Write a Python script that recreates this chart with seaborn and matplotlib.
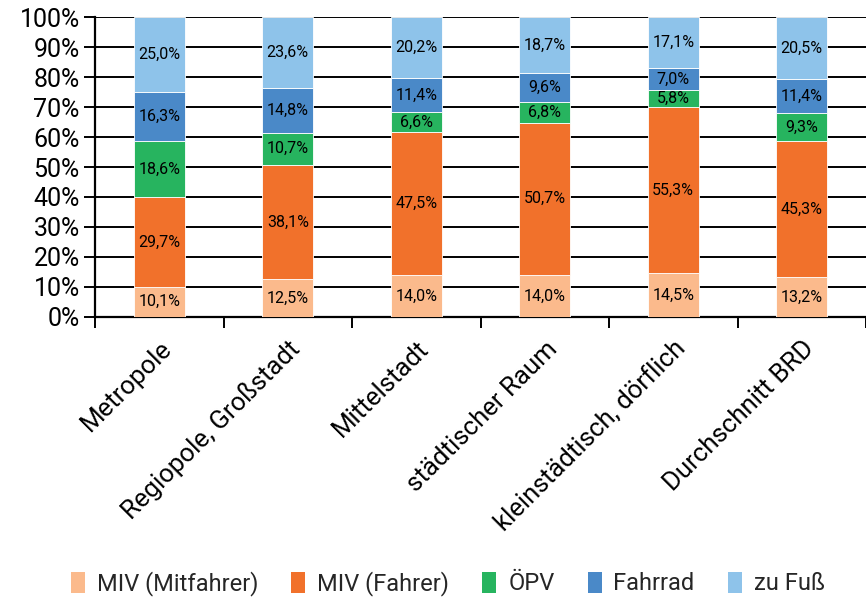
import numpy as np
import pandas as pd
import matplotlib
matplotlib.use("Agg")
import matplotlib.pyplot as plt
import seaborn as sns
from matplotlib.patches import Patch
from matplotlib.ticker import FixedLocator, PercentFormatter

categories = ["Metropole", "Regiopole, Großstadt", "Mittelstadt",
              "städtischer Raum", "kleinstädtisch, dörflich", "Durchschnitt BRD"]
series_names = ["MIV (Mitfahrer)", "MIV (Fahrer)", "ÖPV", "Fahrrad", "zu Fuß"]
miv_mitfahrer = [10.1, 12.5, 14.0, 14.0, 14.5, 13.2]
miv_fahrer = [29.7, 38.1, 47.5, 50.7, 55.3, 45.3]
oepv = [18.6, 10.7, 6.6, 6.8, 5.8, 9.3]
fahrrad = [16.3, 14.8, 11.4, 9.6, 7.0, 11.4]
zu_fuss = [25.0, 23.6, 20.2, 18.7, 17.1, 20.5]
colors = ["#FBBA8C", "#F1712B", "#27B45F", "#4A89C8", "#8EC3EA"]

values = np.array([miv_mitfahrer, miv_fahrer, oepv, fahrrad, zu_fuss])
totals = values.sum(axis=0)
shares = values / totals * 100

sns.set_theme(style="white")
plt.rcParams['font.family'] = ['Roboto', 'DejaVu Sans']

fig = plt.figure(figsize=(8.66, 5.99), dpi=100)
ax = fig.add_axes([0.1097, 0.4708, 0.8903, 0.5008])

bottoms = np.zeros(len(categories))
for i, name in enumerate(series_names):
    df = pd.DataFrame({"cat": categories, "val": shares[i]})
    sns.barplot(data=df, x="cat", y="val", bottom=bottoms, color=colors[i],
                width=0.4, ax=ax, saturation=1, edgecolor="white", linewidth=0.6,
                zorder=3)
    for j in range(len(categories)):
        ax.text(j, bottoms[j] + shares[i][j] / 2, f"{values[i][j]:.1f}".replace(".", ",") + "%",
                ha="center", va="center", fontsize=11.5, color="black", zorder=4)
    bottoms = bottoms + shares[i]

ax.set_ylim(0, 100)
ax.set_xlim(-0.5, len(categories) - 0.5)
ax.set_yticks(np.arange(0, 101, 10))
ax.yaxis.set_major_formatter(PercentFormatter(decimals=0))
ax.grid(axis="y", color="black", linewidth=1.4, zorder=0)
ax.set_axisbelow(True)
ax.set_xlabel("")
ax.set_ylabel("")

for s in ["top", "right"]:
    ax.spines[s].set_visible(False)
for s in ["left", "bottom"]:
    ax.spines[s].set_color("black")
    ax.spines[s].set_linewidth(1.6)

ax.tick_params(axis="y", which="major", left=True, length=8, width=1.4, color="black",
               labelsize=18, pad=3, labelcolor="black")
ax.tick_params(axis="x", which="major", length=0, labelsize=18.5, pad=14, labelcolor="black")
ax.xaxis.set_minor_locator(FixedLocator(np.arange(-0.5, len(categories), 1.0)))
ax.tick_params(axis="x", which="minor", bottom=True, length=8, width=1.4, color="black")
for lbl in ax.get_xticklabels():
    lbl.set_rotation(45)
    lbl.set_ha("right")
    lbl.set_rotation_mode("anchor")

handles = [Patch(facecolor=c, edgecolor="none", label=n) for c, n in zip(colors, series_names)]
fig.legend(handles=handles, loc="lower center", bbox_to_anchor=(0.517, -0.03), ncol=5,
           frameon=False, prop={"size": 17},
           handlelength=0.6, handleheight=1.0,
           handletextpad=0.5, columnspacing=1.4)

fig.savefig("out.png", dpi=100)
